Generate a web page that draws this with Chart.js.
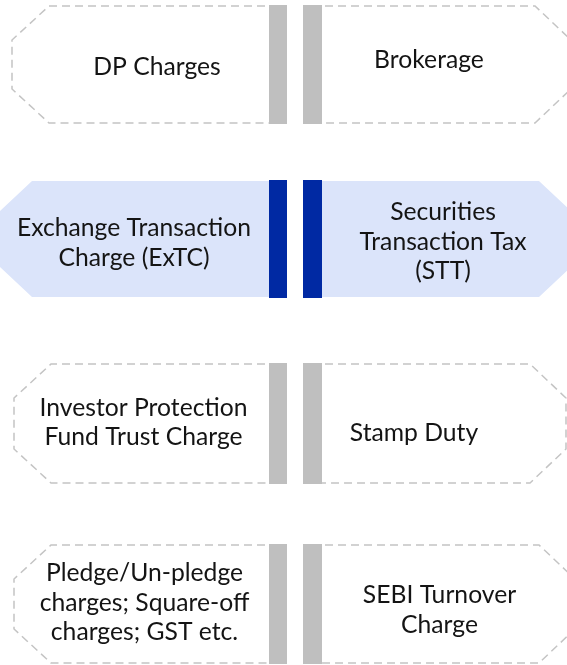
<!DOCTYPE html>
<html>
<head>
<meta charset="utf-8">
<script src="https://cdn.jsdelivr.net/npm/chart.js@4"></script>
<style>
  html, body { margin: 0; padding: 0; background: #fff; overflow: hidden; }
  #wrap { width: 567px; height: 665px; position: relative; }
  #chart { display: block; }
</style>
</head>
<body>
<div id="wrap"><canvas id="chart"></canvas></div>
<script>
// content
const leftLabels = [
  ["DP Charges"],
  ["Exchange Transaction", "Charge (ExTC)"],
  ["Investor Protection", "Fund Trust Charge"],
  ["Pledge/Un-pledge", "charges; Square-off", "charges; GST etc."],
];
const rightLabels = [
  ["Brokerage"],
  ["Securities", "Transaction Tax", "(STT)"],
  ["Stamp Duty"],
  ["SEBI Turnover", "Charge"],
];
const highlighted = [false, true, false, false];

// layout, in a 567 x 665 frame
const W = 567, H = 665;
const rowTop = [6, 181, 364, 545];
const rowBottom = [123, 297, 483, 663];
const leftEdge = [12, -2, 14, 14];
const rightEdge = [571, 573, 566, 575];
const leftText = [[157, 66], [134, 242], [143.5, 421.5], [144.5, 602]];
const rightText = [[429, 59], [443, 241], [414, 432], [439.5, 609]];
const barLeft = [269, 287], barRight = [303, 322];
const LINE = 29.5;

const GREY = "#bfbfbf", BLUE = "#0029a3", PALE = "#dbe4fa", DASH = "#c4c4c4";

function leftBox(i) {
  const t = rowTop[i], b = rowBottom[i], x0 = leftEdge[i];
  const cx = highlighted[i] ? 34 : 37, cy = highlighted[i] ? 32 : 34;
  return [
    { x: 278, y: t }, { x: x0 + cx, y: t }, { x: x0, y: t + cy },
    { x: x0, y: b - cy }, { x: x0 + cx, y: b }, { x: 278, y: b }, { x: 278, y: t },
  ];
}

function rightBox(i) {
  const t = rowTop[i], b = rowBottom[i], x1 = rightEdge[i];
  const cx = highlighted[i] ? 34 : 36, cy = highlighted[i] ? 32 : 34;
  return [
    { x: 312, y: t }, { x: x1 - cx, y: t }, { x: x1, y: t + cy },
    { x: x1, y: b - cy }, { x: x1 - cx, y: b }, { x: 312, y: b }, { x: 312, y: t },
  ];
}

function rect(x0, x1, t, b) {
  return [{ x: x0, y: t }, { x: x1, y: t }, { x: x1, y: b }, { x: x0, y: b }, { x: x0, y: t }];
}

const datasets = [];
rowTop.forEach((t, i) => {
  const b = rowBottom[i];
  const hi = highlighted[i];
  [barLeft, barRight].forEach((bar) => {
    datasets.push({
      data: rect(bar[0], bar[1], t - 1, b + 1),
      showLine: true, fill: "shape", backgroundColor: hi ? BLUE : GREY,
      borderColor: "transparent", borderWidth: 1, pointRadius: 0, order: 0,
    });
  });
  [leftBox(i), rightBox(i)].forEach((pts) => {
    datasets.push(hi ? {
      data: pts, showLine: true, fill: "shape", backgroundColor: PALE,
      borderColor: "transparent", borderWidth: 1, pointRadius: 0, order: 1,
    } : {
      data: pts, showLine: true, fill: false, borderColor: DASH,
      borderWidth: 1.5, borderDash: [8, 5], pointRadius: 0, order: 1,
    });
  });
});

const labelPlugin = {
  id: "boxLabels",
  afterDatasetsDraw(chart) {
    const { ctx, scales: { x, y } } = chart;
    ctx.save();
    ctx.font = "24.7px Lato";
    ctx.fillStyle = "#141414";
    ctx.textAlign = "center";
    ctx.textBaseline = "middle";
    const draw = (lines, pos) => {
      lines.forEach((s, k) => {
        const yy = pos[1] + (k - (lines.length - 1) / 2) * LINE + 1;
        ctx.fillText(s, x.getPixelForValue(pos[0]), y.getPixelForValue(yy));
      });
    };
    leftLabels.forEach((lines, i) => draw(lines, leftText[i]));
    rightLabels.forEach((lines, i) => draw(lines, rightText[i]));
    ctx.restore();
  },
};

new Chart(document.getElementById("chart"), {
  type: "scatter",
  data: { datasets },
  options: {
    responsive: true,
    maintainAspectRatio: false,
    animation: false,
    events: [],
    layout: { padding: 0 },
    elements: { line: { tension: 0 } },
    scales: {
      x: { type: "linear", min: 0, max: W, display: false },
      y: { type: "linear", min: 0, max: H, reverse: true, display: false },
    },
    plugins: { legend: { display: false }, tooltip: { enabled: false } },
  },
  plugins: [labelPlugin],
});
</script>
</body>
</html>
